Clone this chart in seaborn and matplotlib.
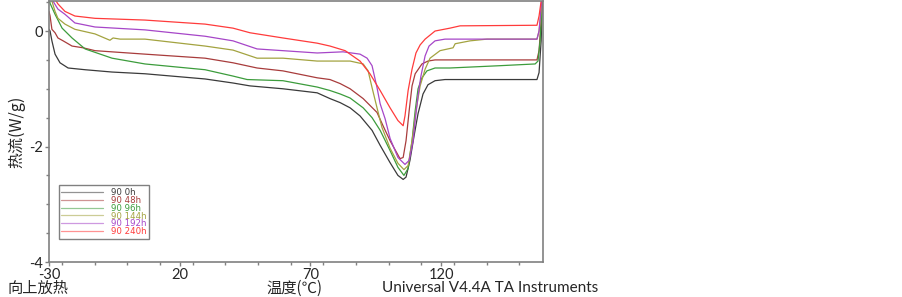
import matplotlib.pyplot as plt
import matplotlib.ticker as mticker
import numpy as np
import pandas as pd
import seaborn as sns

# DSC curves (temperature in C, heat flow in W/g)
samples = ['90 0h', '90 48h', '90 96h', '90 144h', '90 192h', '90 240h']
colors = ['#3a3a3a', '#a83c3c', '#3c9c3c', '#a3a340', '#a646c8', '#ff3b3b']

t_0h = [-30, -29.6, -28.9, -27.7, -25.8, -22.7, -16.2, -5.9, 6.7, 29.7, 40.4, 46.9, 59.5, 72.6, 77.5,
        81.4, 85.2, 89.0, 93.6, 96.7, 100.5, 103.5, 105.5, 106.6, 108.1, 109.7, 111.2, 113.1, 115.0,
        117.7, 121.5, 142.6, 156.7, 157.5, 158.3, 159.0]
hf_0h = [0.03, 0.0, -0.17, -0.40, -0.55, -0.64, -0.67, -0.71, -0.74, -0.83, -0.90, -0.95, -1.00, -1.07, -1.17,
         -1.24, -1.33, -1.47, -1.72, -1.98, -2.28, -2.50, -2.57, -2.53, -2.24, -1.81, -1.43, -1.09, -0.93,
         -0.86, -0.84, -0.84, -0.84, -0.72, -0.17, 0.86]

t_48h = [-30, -29.6, -28.9, -27.7, -26.6, -24.6, -21.2, -17.0, -12.4, 6.7, 29.7, 40.4, 49.6, 59.5, 72.6,
         77.5, 81.4, 85.2, 90.2, 95.5, 97.8, 100.5, 103.2, 104.3, 105.5, 106.6, 107.8, 108.9, 110.1,
         112.7, 115.0, 117.7, 156.7, 157.5, 158.3, 159.0]
hf_48h = [0.34, 0.26, 0.03, -0.03, -0.12, -0.17, -0.26, -0.29, -0.34, -0.40, -0.47, -0.55, -0.64, -0.69, -0.81,
          -0.84, -0.91, -1.00, -1.17, -1.41, -1.64, -1.90, -2.12, -2.21, -2.19, -1.90, -1.38, -0.95, -0.74,
          -0.57, -0.52, -0.50, -0.50, -0.34, 0.17, 0.86]

t_96h = [-30, -29.6, -27.7, -25.0, -21.2, -16.2, -5.9, 6.7, 29.7, 40.4, 45.8, 59.5, 72.6, 77.5, 81.4,
         85.2, 90.2, 93.6, 96.7, 100.5, 103.5, 105.8, 107.4, 108.9, 110.1, 111.2, 112.7, 114.6, 117.7,
         123.4, 142.6, 156.0, 157.1, 157.9, 158.3, 159.0]
hf_96h = [0.60, 0.48, 0.29, 0.05, -0.12, -0.31, -0.47, -0.57, -0.67, -0.78, -0.84, -0.86, -0.97, -1.03, -1.09,
          -1.16, -1.33, -1.50, -1.72, -2.07, -2.36, -2.50, -2.38, -1.90, -1.38, -1.00, -0.81, -0.69, -0.64,
          -0.64, -0.60, -0.57, -0.52, -0.17, 0.17, 0.86]

t_144h = [-30, -28.9, -27.7, -26.6, -23.9, -20.1, -12.4, -6.7, -5.5, -2.8, 6.7, 29.7, 40.4, 49.6, 59.5,
          72.6, 85.2, 90.2, 92.1, 93.6, 95.5, 97.4, 100.5, 103.5, 105.8, 107.4, 108.9, 110.4, 112.0,
          113.9, 115.8, 119.6, 124.6, 125.4, 131.1, 137.6, 156.7, 157.5, 158.3, 159.0]
hf_144h = [0.86, 0.52, 0.34, 0.22, 0.12, 0.03, -0.05, -0.16, -0.12, -0.14, -0.14, -0.26, -0.33, -0.47, -0.47,
           -0.52, -0.52, -0.57, -0.69, -0.98, -1.33, -1.67, -2.03, -2.29, -2.40, -2.33, -1.90, -1.38, -0.95,
           -0.66, -0.47, -0.34, -0.29, -0.22, -0.17, -0.14, -0.14, 0.0, 0.34, 0.86]

t_192h = [-30, -28.5, -26.6, -23.9, -20.1, -12.4, 6.7, 29.7, 40.4, 49.6, 59.5, 72.6, 82.5, 89.0, 91.7,
          93.6, 95.5, 96.7, 98.6, 100.5, 103.5, 106.2, 107.8, 109.3, 110.1, 111.2, 112.3, 113.9, 115.4,
          117.7, 121.5, 156.7, 157.5, 158.3, 159.0]
hf_192h = [0.95, 0.52, 0.38, 0.29, 0.14, 0.07, 0.02, -0.09, -0.17, -0.31, -0.34, -0.38, -0.36, -0.40, -0.47,
           -0.60, -0.98, -1.26, -1.52, -1.86, -2.19, -2.31, -2.24, -1.90, -1.55, -1.12, -0.78, -0.43, -0.26,
           -0.17, -0.14, -0.14, 0.0, 0.43, 0.86]

t_240h = [-30, -27.3, -26.6, -23.9, -20.1, -12.4, 6.7, 29.7, 40.4, 46.9, 59.5, 72.6, 77.5, 83.3, 89.0,
          92.8, 96.7, 100.5, 103.5, 105.5, 106.2, 107.4, 108.9, 110.4, 112.0, 113.9, 117.7, 123.4, 127.3,
          156.7, 157.5, 158.3, 159.0]
hf_240h = [1.21, 0.52, 0.47, 0.34, 0.26, 0.22, 0.19, 0.12, 0.05, -0.03, -0.12, -0.21, -0.26, -0.34, -0.52,
           -0.74, -1.03, -1.33, -1.55, -1.64, -1.47, -1.03, -0.66, -0.38, -0.24, -0.14, 0.0, 0.05, 0.09,
           0.10, 0.26, 0.52, 0.86]

temps = [t_0h, t_48h, t_96h, t_144h, t_192h, t_240h]
flows = [hf_0h, hf_48h, hf_96h, hf_144h, hf_192h, hf_240h]

x_major = [-30, 20, 70, 120]
y_major = [-4, -2, 0]

sns.set_style('ticks')
plt.rcParams['font.family'] = ['Lato', 'Noto Sans CJK SC', 'DejaVu Sans']
plt.rcParams['axes.unicode_minus'] = False

fig, ax = plt.subplots(figsize=(9.03, 2.97), dpi=100)
fig.subplots_adjust(left=0.0543, right=0.6013, bottom=0.1178, top=0.9966)

for name, col, t, hf in zip(samples, colors, temps, flows):
    df = pd.DataFrame({'T': t, 'HF': hf})
    sns.lineplot(data=df, x='T', y='HF', ax=ax, color=col, lw=0.9, sort=False,
                 estimator=None, label=name)

ax.set_xlim(-30, 159)
ax.set_ylim(-4, 0.52)
ax.set_xticks(x_major)
ax.set_yticks(y_major)
ax.xaxis.set_minor_locator(mticker.MultipleLocator(12.5))
ax.yaxis.set_minor_locator(mticker.MultipleLocator(0.5))
ax.tick_params(which='major', direction='out', length=3, width=1, color='#808080',
               labelsize=10.5, pad=1)
ax.tick_params(which='minor', direction='out', length=2, width=1, color='#808080')
ax.set_xlabel('')
ax.set_ylabel('')
for side in ['left', 'bottom', 'top', 'right']:
    ax.spines[side].set_visible(True)
    ax.spines[side].set_color('#808080')
    ax.spines[side].set_linewidth(1.2)

leg = ax.legend(loc='upper left', bbox_to_anchor=(0.02, 0.295), borderaxespad=0,
                labelcolor='linecolor', handlelength=4.8, handletextpad=0.9,
                labelspacing=-0.12, borderpad=0.3, fancybox=False, framealpha=1,
                prop={'family': 'DejaVu Sans', 'size': 6.2})
leg.get_frame().set_edgecolor('#808080')
leg.get_frame().set_linewidth(1.0)
for ln in leg.get_lines():
    ln.set_alpha(0.55)

cjk = ['Noto Sans CJK SC', 'DejaVu Sans']
fig.text(0.019, 0.555, '热流(W/g)', rotation=90, ha='center', va='center', fontsize=11.5, family=cjk)
fig.text(0.008, 0.0, '向上放热', ha='left', va='bottom', fontsize=11, family=cjk)
fig.text(0.326, 0.0, '温度(℃)', ha='center', va='bottom', fontsize=11, family=cjk)
fig.text(0.423, 0.018, 'Universal V4.4A TA Instruments', ha='left', va='baseline', fontsize=11,
         family='Lato')

fig.savefig('out.png', dpi=100)
